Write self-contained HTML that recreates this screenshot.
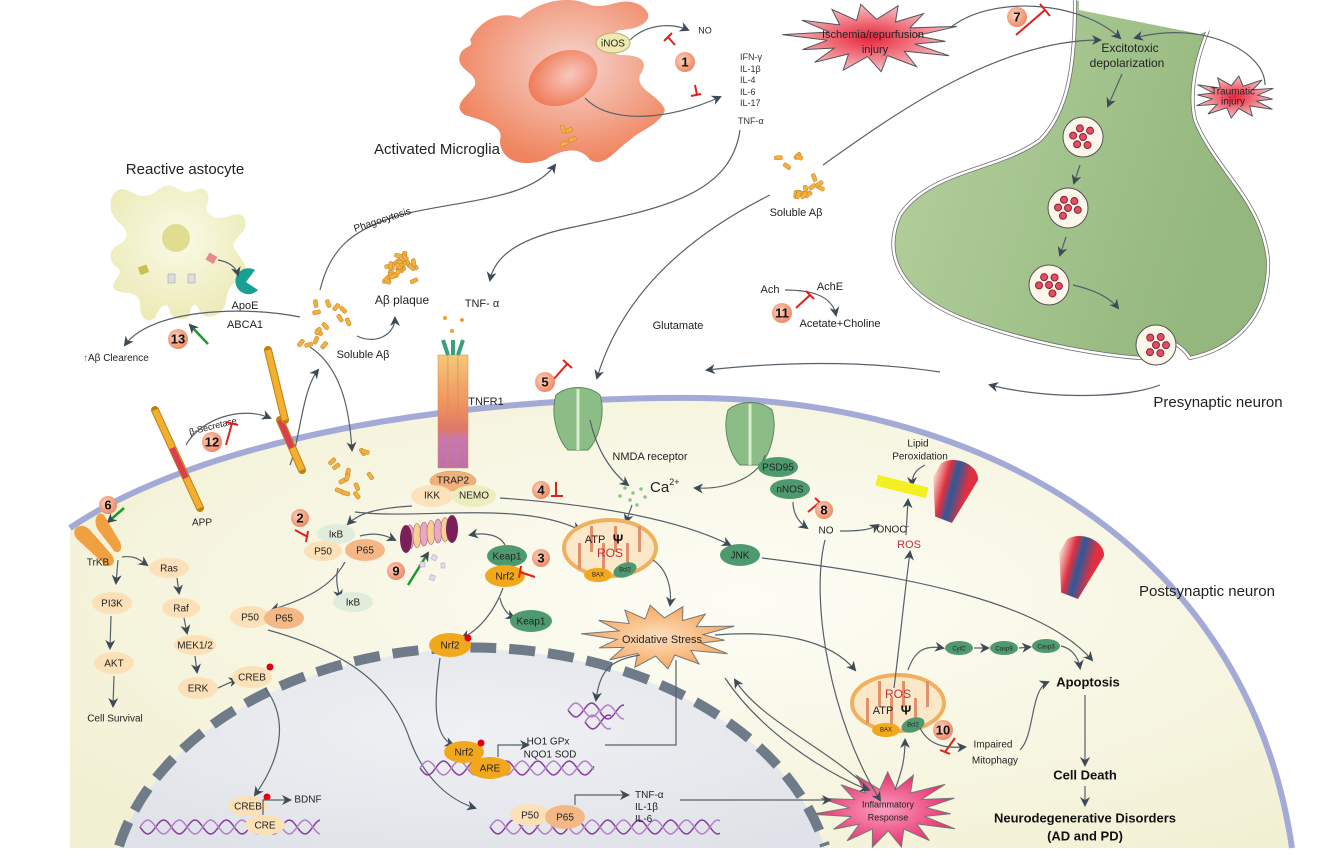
<!DOCTYPE html>
<html><head><meta charset="utf-8"><style>
html,body{margin:0;padding:0;background:#fff;width:1321px;height:857px;overflow:hidden;}
svg{display:block;font-family:"Liberation Sans",sans-serif;}
.t{font-size:10px;fill:#222;text-anchor:middle;dominant-baseline:middle;}
.l{font-size:11px;fill:#222;text-anchor:middle;dominant-baseline:middle;}
.big{font-size:15px;fill:#222;text-anchor:middle;dominant-baseline:middle;}
.b{font-size:13px;font-weight:bold;fill:#111;text-anchor:middle;dominant-baseline:middle;}
.ar{fill:none;stroke:#56606b;stroke-width:1.2;marker-end:url(#ah);}
.inh{stroke:#e0201c;stroke-width:2;fill:none;}
</style></head><body>
<svg id="s" width="1321" height="857" viewBox="0 0 1321 857" xmlns="http://www.w3.org/2000/svg">
<defs>
<marker id="ah" markerWidth="10" markerHeight="10" refX="8" refY="5" orient="auto" markerUnits="userSpaceOnUse"><path d="M0,0 L10,5 L0,10 L3,5 Z" fill="#3e4a56"/></marker>
<radialGradient id="cellg" cx="0.55" cy="0.45" r="0.7"><stop offset="0" stop-color="#fdfdf6"/><stop offset="1" stop-color="#f2f0d2"/></radialGradient>
<radialGradient id="nucg" cx="0.5" cy="0.4" r="0.7"><stop offset="0" stop-color="#f0f1f4"/><stop offset="1" stop-color="#dfe2e8"/></radialGradient>
<radialGradient id="mg" cx="0.55" cy="0.4" r="0.6"><stop offset="0" stop-color="#f6d6d0"/><stop offset="1" stop-color="#f0845e"/></radialGradient>
<radialGradient id="mgn" cx="0.6" cy="0.5" r="0.6"><stop offset="0" stop-color="#f8c8c0"/><stop offset="1" stop-color="#ef7a55"/></radialGradient>
<radialGradient id="ag" cx="0.5" cy="0.4" r="0.6"><stop offset="0" stop-color="#fafae8"/><stop offset="1" stop-color="#ecebb8"/></radialGradient>
<linearGradient id="pg" x1="0" y1="0" x2="1" y2="0.3"><stop offset="0" stop-color="#b6d1a0"/><stop offset="1" stop-color="#93b77c"/></linearGradient>
<radialGradient id="redst" cx="0.5" cy="0.5" r="0.5"><stop offset="0" stop-color="#e8243a"/><stop offset="1" stop-color="#f8c0c4"/></radialGradient>
<radialGradient id="orst" cx="0.5" cy="0.5" r="0.5"><stop offset="0" stop-color="#fde0c0"/><stop offset="1" stop-color="#f6a860"/></radialGradient>
<radialGradient id="pkst" cx="0.5" cy="0.5" r="0.5"><stop offset="0" stop-color="#f8a0c0"/><stop offset="1" stop-color="#e8306c"/></radialGradient>
<radialGradient id="num" cx="0.4" cy="0.4" r="0.6"><stop offset="0" stop-color="#fcd4c0"/><stop offset="1" stop-color="#f08a68"/></radialGradient>
<radialGradient id="glu" cx="0.5" cy="0.5" r="0.5"><stop offset="0" stop-color="#f6d070"/><stop offset="1" stop-color="#e46a30"/></radialGradient>
<linearGradient id="tn" x1="0" y1="0" x2="0" y2="1"><stop offset="0" stop-color="#f6c878"/><stop offset="0.45" stop-color="#f09060"/><stop offset="0.65" stop-color="#e07868"/><stop offset="0.75" stop-color="#c878b0"/><stop offset="1" stop-color="#c070a8"/></linearGradient>
<linearGradient id="ch" x1="0" y1="0" x2="1" y2="0"><stop offset="0" stop-color="#f8e0d0"/><stop offset="0.3" stop-color="#e03040"/><stop offset="0.5" stop-color="#2a5a9a"/><stop offset="0.8" stop-color="#e03040"/></linearGradient>
</defs>

<path d="M70,528 C200,440 450,396 700,398 C1000,402 1250,560 1292,848 L70,848 Z" fill="url(#cellg)"/>
<path d="M70,528 C200,440 450,396 700,398 C1000,402 1250,560 1292,848" fill="none" stroke="#a3aad6" stroke-width="6"/>
<path d="M119,848 A362,255 0 0 1 825,848 Z" fill="url(#nucg)"/>
<path d="M119,846 A362,255 0 0 1 825,846" fill="none" stroke="#6f7b89" stroke-width="10" stroke-dasharray="26 13"/>

<path d="M1075,0 C1075,60 1070,110 1040,140 C1000,170 930,170 900,215 C880,260 905,300 980,325 C1040,345 1100,355 1140,358 C1150,335 1175,335 1190,358 C1230,350 1270,320 1268,260 C1262,200 1215,170 1195,120 C1188,90 1198,55 1208,30" fill="url(#pg)" stroke="#6a6a6a" stroke-width="4"/>
<path d="M1075,0 C1075,60 1070,110 1040,140 C1000,170 930,170 900,215 C880,260 905,300 980,325 C1040,345 1100,355 1140,358 C1150,335 1175,335 1190,358 C1230,350 1270,320 1268,260 C1262,200 1215,170 1195,120 C1188,90 1198,55 1208,30" fill="none" stroke="#fff" stroke-width="2.5"/>
<path d="M1079,0 L1079,10 L1200,34 L1210,30" fill="#fff" stroke="none"/>
<g id="ves"></g>
<text class="l" x="1130" y="49" style="font-size:12px">Excitotoxic</text>
<text class="l" x="1127" y="64" style="font-size:12px">depolarization</text>
<path class="ar" d="M1122,74 L1108,106"/>
<path class="ar" d="M1080,165 L1074,183"/>
<path class="ar" d="M1066,237 L1060,255"/>
<path class="ar" d="M1073,285 C1095,290 1110,298 1118,308"/>

<path d="M470,40 C480,20 500,10 520,18 C540,0 570,-5 590,5 C610,10 620,-5 640,5 C660,18 640,30 620,30 C605,35 600,50 620,55 C640,55 650,60 640,75 C635,90 660,95 665,110 C660,125 640,130 630,140 C615,150 605,168 590,160 C580,145 560,150 545,160 C520,168 500,160 500,140 C505,125 480,120 465,115 C450,105 470,95 475,85 C478,72 455,70 460,55 C463,45 475,48 470,40 Z" fill="url(#mg)"/>
<ellipse cx="563" cy="78" rx="36" ry="26" transform="rotate(-25 563 78)" fill="url(#mgn)"/>
<ellipse cx="613" cy="43" rx="17" ry="10" fill="#eeeab0" stroke="#b8b070"/>
<text class="t" x="613" y="44">iNOS</text>
<path class="ar" d="M630,40 C645,25 670,22 688,30"/>
<text class="t" x="705" y="31" style="font-size:9px">NO</text>
<path class="ar" d="M585,98 C610,125 670,120 720,97"/>
<g font-size="9" fill="#333" font-family="Liberation Sans"><text x="740" y="60">IFN-γ</text><text x="740" y="72">IL-1β</text><text x="740" y="83">IL-4</text><text x="740" y="95">IL-6</text><text x="740" y="106">IL-17</text><text x="738" y="124">TNF-α</text></g>
<text class="big" x="437" y="150">Activated Microglia</text>
<path d="M668,37 L675,45 M664,41 L672,33" class="inh"/>
<path d="M695,85 L697,95 M691,96 L701,94" class="inh"/>

<path d="M118,190 C130,186 135,200 150,195 C160,190 165,180 180,190 C190,196 200,185 205,190 C215,200 200,205 210,215 C222,225 240,205 245,220 C250,232 228,240 235,250 C245,262 252,275 240,280 C228,285 228,292 225,305 C220,318 205,320 200,312 C196,300 190,305 190,315 C185,322 172,320 170,312 C168,300 160,305 155,318 C145,325 140,315 140,305 C140,290 125,295 115,290 C108,282 125,275 118,268 C108,262 108,250 118,245 C130,240 128,228 118,222 C108,212 108,196 118,190 Z" fill="url(#ag)"/>
<circle cx="176" cy="238" r="14" fill="#e0dd90"/>
<rect x="139" y="266" width="9" height="8" fill="#c8c050" transform="rotate(-20 143 270)"/>
<rect x="168" y="274" width="7" height="9" fill="#ddd" stroke="#999" stroke-width=".5"/><rect x="188" y="274" width="7" height="9" fill="#ddd" stroke="#999" stroke-width=".5"/>
<rect x="207" y="254" width="9" height="8" fill="#e88a8a" transform="rotate(30 211 258)"/>
<path d="M255,270 A13,13 0 1 0 258,290 L246,282 Z" fill="#1aa090"/>
<path class="ar" d="M218,260 C230,262 236,268 238,275"/>
<text class="big" x="185" y="170">Reactive astocyte</text>
<text class="l" x="245" y="306">ApoE</text>
<text class="l" x="245" y="325">ABCA1</text>
<path class="ar" d="M300,317 C240,305 150,310 125,345"/>
<path d="M208,344 L190,325" stroke="#1a9a2a" stroke-width="2.5" marker-end="url(#ah)"/>
<text x="83" y="361" font-size="10" fill="#222"><tspan fill="#1a9a2a">↑</tspan>Aβ Clearence</text>

<g id="rods"></g>
<text class="l" x="363" y="355">Soluble Aβ</text>
<text class="l" x="402" y="301" style="font-size:12px">Aβ plaque</text>
<path class="ar" d="M357,336 C375,345 395,335 395,318"/>
<path class="ar" d="M320,290 C330,250 350,230 400,215 C460,200 530,200 555,165"/>
<text x="355" y="232" font-size="10" fill="#222" transform="rotate(-18 355 232)">Phagocytosis</text>
<path class="ar" d="M740,130 C730,200 650,210 560,230 C520,240 495,255 490,280"/>
<text class="l" x="482" y="304">TNF- α</text>
<path class="ar" d="M310,347 C345,370 350,420 352,450"/>
<path class="ar" d="M290,465 C300,440 302,390 318,370"/>

<text class="l" x="796" y="213">Soluble Aβ</text>
<path class="ar" d="M823,165 C900,110 1000,40 1100,40"/>
<path class="ar" d="M770,195 C680,240 620,300 597,378"/>
<g id="stars"></g>
<text class="l" x="873" y="35">Ischemia/repurfusion</text>
<text class="l" x="875" y="50">injury</text>
<text class="t" x="1233" y="92">Traumatic</text><text class="t" x="1233" y="102">injury</text>
<path class="ar" d="M950,28 C990,-5 1080,0 1120,38"/>
<path class="ar" d="M1265,85 C1265,50 1200,20 1135,38"/>
<path d="M1016,35 L1045,10 M1040,4 L1050,16" class="inh"/>

<text class="l" x="770" y="290">Ach</text><text class="l" x="830" y="287">AchE</text>
<path class="ar" d="M785,290 C810,290 832,295 836,315"/>
<text class="l" x="840" y="324">Acetate+Choline</text>
<path d="M796,308 L810,295 M806,291 L814,299" class="inh"/>

<text class="l" x="678" y="326">Glutamate</text>
<g id="glu"></g>
<path class="ar" d="M1160,385 C1120,400 1040,398 990,385"/>
<path class="ar" d="M940,372 C860,360 780,362 707,370"/>
<text class="big" x="1218" y="403">Presynaptic neuron</text>

<g id="nmda"></g>
<text class="l" x="650" y="457">NMDA receptor</text>
<text x="650" y="492" font-size="15" fill="#222">Ca<tspan font-size="9" dy="-7">2+</tspan></text>
<g fill="#8cc48c" id="ca"></g>
<path class="ar" d="M590,420 C598,455 615,475 628,485"/>
<path class="ar" d="M765,455 C760,475 730,490 695,488"/>
<path class="ar" d="M632,505 L626,522"/>
<path d="M546,388 L568,363 M563,360 L572,368" class="inh"/>
<ellipse cx="778" cy="467" rx="20" ry="10" fill="#4e9a6e"/><text class="t" x="778" y="468">PSD95</text>
<ellipse cx="790" cy="489" rx="20" ry="10" fill="#4e9a6e"/><text class="t" x="790" y="490">nNOS</text>
<path class="ar" d="M793,502 C793,515 800,523 807,528"/>
<text class="t" x="826" y="531">NO</text>
<path d="M808,512 L820,502 M815,498 L824,506" class="inh"/>
<path class="ar" d="M840,531 C860,531 870,530 878,525"/>
<text class="t" x="893" y="530">ONOO<tspan font-size="7" dy="-3">-</tspan></text>
<text class="t" x="918" y="444">Lipid</text><text class="t" x="920" y="457">Peroxidation</text>
<path class="ar" d="M925,465 C915,470 912,476 912,485"/>
<rect x="876" y="481" width="52" height="11" fill="#f2f020" transform="rotate(14 902 486)"/>
<path class="ar" d="M906,535 L908,500"/>
<text class="t" x="909" y="545" style="fill:#c0303a;font-size:11px">ROS</text>
<g id="chan"></g>
<text class="big" x="1207" y="592">Postsynaptic neuron</text>

<g id="tnfr"></g>
<text class="l" x="486" y="402">TNFR1</text>
<ellipse cx="453" cy="481" rx="23" ry="10" fill="#f0b07a" stroke="#d89060" stroke-width=".5"/><text class="t" x="453" y="481">TRAP2</text>
<ellipse cx="432" cy="496" rx="21" ry="11" fill="#fbe2bc"/><text class="t" x="432" y="496">IKK</text>
<ellipse cx="474" cy="496" rx="22" ry="11" fill="#eeedc0"/><text class="t" x="474" y="496">NEMO</text>
<path class="ar" d="M412,506 C380,508 360,512 348,524"/>
<path class="ar" d="M355,512 C420,520 520,500 580,530"/>
<path class="ar" d="M500,498 C600,505 680,520 730,545"/>
<circle cx="541" cy="490" r="9" fill="url(#num)"/><text class="b" x="541" y="491">4</text>
<path d="M556,482 L556,496 M551,496 L563,496" class="inh"/>

<ellipse cx="336" cy="534" rx="19" ry="10" fill="#e1ecdc"/><text class="t" x="336" y="535">IκB</text>
<ellipse cx="323" cy="551" rx="19" ry="10" fill="#fbe0b8"/><text class="t" x="323" y="552">P50</text>
<ellipse cx="365" cy="550" rx="20" ry="11" fill="#f4b887"/><text class="t" x="365" y="551">P65</text>
<circle cx="300" cy="518" r="9" fill="url(#num)"/><text class="b" x="300" y="519">2</text>
<path d="M295,530 L308,537 M308,531 L306,542" class="inh"/>
<path class="ar" d="M360,536 C375,532 385,535 395,540"/>
<path class="ar" d="M345,562 C330,590 300,600 272,610"/>
<path class="ar" d="M338,568 C335,580 338,590 340,598"/>
<ellipse cx="353" cy="602" rx="20" ry="10" fill="#e1ecdc"/><text class="t" x="353" y="603">IκB</text>
<ellipse cx="250" cy="617" rx="20" ry="11" fill="#fbe0b8"/><text class="t" x="250" y="618">P50</text>
<ellipse cx="284" cy="618" rx="20" ry="11" fill="#f4b887"/><text class="t" x="284" y="619">P65</text>
<path class="ar" d="M268,630 C340,650 390,680 410,740 C425,780 450,800 475,808"/>
<g id="prot"></g>
<circle cx="396" cy="571" r="9" fill="url(#num)"/><text class="b" x="396" y="572">9</text>
<path d="M408,585 L428,553" stroke="#1a9a2a" stroke-width="2.5" marker-end="url(#ah)"/>
<g fill="#e4d8ec" stroke="#b8a8c8" stroke-width=".6"><rect x="432" y="555" width="5" height="5" transform="rotate(30 434 557)"/><rect x="420" y="562" width="5" height="5"/><rect x="430" y="575" width="5" height="5" transform="rotate(20 432 577)"/><rect x="441" y="563" width="4" height="5"/></g>
<ellipse cx="507" cy="556" rx="20" ry="11" fill="#4e9a6e"/><text class="t" x="507" y="557">Keap1</text>
<ellipse cx="505" cy="576" rx="20" ry="11" fill="#f2a81c"/><text class="t" x="505" y="577">Nrf2</text>
<circle cx="541" cy="558" r="9" fill="url(#num)"/><text class="b" x="541" y="559">3</text>
<path d="M520,572 L535,577 M521,566 L519,578" class="inh"/>
<path class="ar" d="M505,545 C500,535 485,532 470,535"/>
<path class="ar" d="M503,588 C495,610 480,630 462,638"/>
<path class="ar" d="M500,598 C502,608 508,615 514,618"/>
<ellipse cx="531" cy="621" rx="21" ry="11" fill="#4e9a6e"/><text class="t" x="531" y="622">Keap1</text>
<ellipse cx="450" cy="645" rx="21" ry="12" fill="#f2a81c"/><text class="t" x="450" y="646">Nrf2</text>
<circle cx="468" cy="638" r="3.5" fill="#e00010"/>
<path class="ar" d="M440,658 C436,690 430,735 453,745"/>

<g id="mito1"></g>
<path class="ar" d="M653,560 C668,570 672,590 670,605"/>

<text class="l" x="662" y="640" style="font-size:11px">Oxidative Stress</text>
<path class="ar" d="M640,655 C610,660 600,670 596,700"/>
<path d="M676,660 L676,745 L605,745" fill="none" stroke="#56606b" stroke-width="1.2"/>
<path class="ar" d="M715,635 C780,630 830,640 855,670"/>
<ellipse cx="740" cy="555" rx="20" ry="11" fill="#4e9a6e"/><text class="t" x="740" y="556">JNK</text>
<path class="ar" d="M762,558 C900,575 1040,600 1092,660"/>

<g id="mito2"></g>
<path class="ar" d="M894,688 C900,640 905,590 910,552"/>
<ellipse cx="959" cy="648" rx="14" ry="7" fill="#4e9a6e"/><text class="t" x="959" y="649" style="font-size:6px">CytC</text>
<ellipse cx="1004" cy="648" rx="14" ry="7" fill="#4e9a6e"/><text class="t" x="1004" y="649" style="font-size:6px">Casp9</text>
<ellipse cx="1046" cy="646" rx="14" ry="7" fill="#4e9a6e"/><text class="t" x="1046" y="647" style="font-size:6px">Casp3</text>
<path class="ar" d="M908,670 C915,650 925,645 943,648"/>
<path class="ar" d="M974,648 L988,648"/><path class="ar" d="M1019,648 L1030,647"/>
<path class="ar" d="M1061,646 C1070,648 1078,655 1080,668"/>
<text class="b" x="1088" y="683">Apoptosis</text>
<path class="ar" d="M1085,695 L1085,765"/>
<text class="b" x="1085" y="776">Cell Death</text>
<path class="ar" d="M1085,786 L1085,805"/>
<text class="b" x="1085" y="819">Neurodegenerative Disorders</text>
<text class="b" x="1085" y="837">(AD and PD)</text>
<circle cx="943" cy="730" r="10" fill="url(#num)"/><text class="b" x="943" y="731">10</text>
<path d="M955,738 L945,752 M940,750 L950,754" class="inh"/>
<path class="ar" d="M920,728 C930,748 950,748 965,747"/>
<text class="t" x="993" y="745">Impaired</text><text class="t" x="995" y="761">Mitophagy</text>
<path class="ar" d="M1020,750 C1035,735 1030,690 1048,682"/>
<path class="ar" d="M825,540 C810,600 830,720 880,800"/>
<path class="ar" d="M870,790 C830,750 760,720 735,680"/>
<path class="ar" d="M725,678 C760,730 820,770 868,790"/>
<path class="ar" d="M895,790 C902,770 905,760 905,740"/>
<text class="t" x="888" y="805" style="font-size:9px">Inflammatory</text>
<text class="t" x="888" y="818" style="font-size:9px">Response</text>

<circle cx="108" cy="505" r="9" fill="url(#num)"/><text class="b" x="108" y="506">6</text>
<path d="M124,508 L108,522" stroke="#1a9a2a" stroke-width="2.5" marker-end="url(#ah)"/>
<path d="M78,540 C68,530 80,520 90,530 L112,555 C118,565 108,570 102,562 Z" fill="#f0a040"/>
<path d="M98,530 C92,520 98,510 104,515 L120,542 C124,552 116,556 112,548 Z" fill="#f0a040"/>
<text class="t" x="98" y="563">TrKB</text>
<path class="ar" d="M118,560 L116,583"/>
<path class="ar" d="M122,557 C135,555 140,560 147,565"/>
<ellipse cx="169" cy="568" rx="20" ry="10" fill="#fbe0b8"/><text class="t" x="169" y="569">Ras</text>
<path class="ar" d="M177,578 L179,593"/>
<ellipse cx="181" cy="608" rx="19" ry="10" fill="#fbe0b8"/><text class="t" x="181" y="609">Raf</text>
<path class="ar" d="M184,618 L187,633"/>
<ellipse cx="195" cy="645" rx="21" ry="10" fill="#fbe0b8"/><text class="t" x="195" y="646">MEK1/2</text>
<path class="ar" d="M195,656 L197,672"/>
<ellipse cx="198" cy="688" rx="20" ry="11" fill="#fbe0b8"/><text class="t" x="198" y="689">ERK</text>
<path class="ar" d="M218,688 C225,685 230,682 237,680"/>
<ellipse cx="252" cy="677" rx="20" ry="11" fill="#fbe0b8"/><text class="t" x="252" y="678">CREB</text>
<circle cx="270" cy="667" r="3.5" fill="#e00010"/>
<path class="ar" d="M265,688 C290,720 280,760 255,795"/>
<ellipse cx="112" cy="603" rx="20" ry="11" fill="#fbe0b8"/><text class="t" x="112" y="604">PI3K</text>
<path class="ar" d="M111,616 L110,648"/>
<ellipse cx="114" cy="663" rx="20" ry="11" fill="#fbe0b8"/><text class="t" x="114" y="664">AKT</text>
<path class="ar" d="M114,676 L113,706"/>
<text class="t" x="115" y="719">Cell Survival</text>
<g id="app"></g>
<text class="t" x="202" y="523">APP</text>
<path class="ar" d="M186,445 C200,420 240,405 270,418"/>
<text x="190" y="435" font-size="9" fill="#222" transform="rotate(-14 190 435)">β-Secretase</text>
<circle cx="212" cy="442" r="10" fill="url(#num)"/><text class="b" x="212" y="443">12</text>
<path d="M226,445 L232,423 M226,422 L238,425" class="inh"/>
<circle cx="178" cy="339" r="10" fill="url(#num)"/><text class="b" x="178" y="340">13</text>
<circle cx="685" cy="62" r="10" fill="url(#num)"/><text class="b" x="685" y="63">1</text>
<circle cx="1017" cy="17" r="10" fill="url(#num)"/><text class="b" x="1017" y="18">7</text>
<circle cx="782" cy="313" r="10" fill="url(#num)"/><text class="b" x="782" y="314">11</text>
<circle cx="545" cy="382" r="10" fill="url(#num)"/><text class="b" x="545" y="383">5</text>
<circle cx="824" cy="510" r="9" fill="url(#num)"/><text class="b" x="824" y="511">8</text>

<g id="dna"></g>
<ellipse cx="464" cy="752" rx="20" ry="11" fill="#f2a81c"/><text class="t" x="464" y="753">Nrf2</text>
<circle cx="481" cy="743" r="3.5" fill="#e00010"/>
<ellipse cx="490" cy="768" rx="21" ry="11" fill="#f2a81c"/><text class="t" x="490" y="769">ARE</text>
<path class="ar" d="M498,757 L498,745 L528,745"/>
<text class="t" x="548" y="742">HO1 GPx</text><text class="t" x="550" y="755">NQO1 SOD</text>
<ellipse cx="248" cy="806" rx="20" ry="10" fill="#fbe0b8"/><text class="t" x="248" y="807">CREB</text>
<circle cx="267" cy="797" r="3.5" fill="#e00010"/>
<ellipse cx="265" cy="825" rx="20" ry="10" fill="#fbe0b8"/><text class="t" x="265" y="826">CRE</text>
<path class="ar" d="M263,815 L263,800 L290,800"/><text class="t" x="308" y="800">BDNF</text>
<ellipse cx="530" cy="815" rx="20" ry="11" fill="#fbe0b8"/><text class="t" x="530" y="816">P50</text>
<ellipse cx="565" cy="817" rx="20" ry="12" fill="#f4b887"/><text class="t" x="565" y="818">P65</text>
<path class="ar" d="M575,805 L575,795 L628,795"/>
<text x="635" y="798" font-size="10" fill="#222">TNF-α</text>
<text x="635" y="810" font-size="10" fill="#222">IL-1β</text>
<text x="635" y="822" font-size="10" fill="#222">IL-6</text>
<path class="ar" d="M680,800 L830,800"/>
</svg>
<script>
var NS="http://www.w3.org/2000/svg",s=document.getElementById('s');
function el(p,t,a){var e=document.createElementNS(NS,t);for(var k in a)e.setAttribute(k,a[k]);document.getElementById(p).appendChild(e);return e;}
function star(cx,cy,rx,ry,n,ir,fill,stroke){var p=[];for(var i=0;i<2*n;i++){var a=Math.PI*i/n+0.1,r=i%2?ir:1;p.push((cx+Math.cos(a)*rx*r*(i%2?1:(0.9+0.2*((i*7)%3)/2))).toFixed(1)+','+(cy+Math.sin(a)*ry*r).toFixed(1));}
el('stars','polygon',{points:p.join(' '),fill:fill,stroke:stroke,'stroke-width':1});}
star(872,38,82,34,14,0.55,'url(#redst)','#555');
star(1235,97,42,21,12,0.55,'url(#redst)','#555');
star(660,637,72,32,14,0.6,'url(#orst)','#777');
star(888,810,70,38,15,0.55,'url(#pkst)','#777');
var st=document.getElementById('stars');st.parentNode.insertBefore(st,s.querySelector('text'));
[[1083,137],[1068,208],[1049,285],[1156,345]].forEach(function(v,j){el('ves','circle',{cx:v[0],cy:v[1],r:20,fill:'#fdf6ea',stroke:'#555','stroke-width':1});
for(var i=0;i<6;i++){var a=i*1.1+j;el('ves','circle',{cx:v[0]+Math.cos(a)*(i?10:0),cy:v[1]+Math.sin(a)*(i?9:0),r:3.5,fill:'#e05060',stroke:'#902030','stroke-width':1});}});
function rods(cx,cy,w,h,n,seed){for(var i=0;i<n;i++){seed=(seed*9301+49297)%233280;var r1=seed/233280;seed=(seed*9301+49297)%233280;var r2=seed/233280;seed=(seed*9301+49297)%233280;var r3=seed/233280;
var x=cx+(r1-0.5)*w,y=cy+(r2-0.5)*h;el('rods','rect',{x:x-4,y:y-2,width:8,height:4,rx:1.5,fill:'#f2b040',stroke:'#c88020','stroke-width':.5,transform:'rotate('+(r3*180)+' '+x+' '+y+')'});}}
rods(325,325,50,45,14,3);rods(400,268,30,30,26,7);rods(350,475,45,50,12,11);rods(800,175,45,50,14,5);rods(568,138,20,20,4,13);
[[660,350],[675,343],[690,352],[655,368],[672,372],[690,375],[705,370],[665,390],[685,392]].forEach(function(p){el('glu','circle',{cx:p[0],cy:p[1],r:6,fill:'url(#glu)'});});
[[950,365],[965,360],[978,370],[945,382],[962,384],[978,388],[955,400],[970,405],[990,378]].forEach(function(p){el('glu','circle',{cx:p[0],cy:p[1],r:6,fill:'url(#glu)'});});
el('glu','circle',{cx:608,cy:404,r:6,fill:'url(#glu)'});el('glu','circle',{cx:774,cy:418,r:6,fill:'url(#glu)'});
[[625,488],[633,493],[641,489],[630,500],[645,497],[620,496],[637,505]].forEach(function(p){el('ca','circle',{cx:p[0],cy:p[1],r:1.8});});
function nmda(x,y){el('nmda','path',{d:'M'+(x-22)+','+y+' C'+(x-28)+','+(y+20)+' '+(x-20)+','+(y+45)+' '+(x-10)+','+(y+55)+' L'+(x+10)+','+(y+55)+' C'+(x+20)+','+(y+45)+' '+(x+28)+','+(y+20)+' '+(x+22)+','+y+' C'+(x+10)+','+(y-10)+' '+(x-10)+','+(y-10)+' '+(x-22)+','+y+' Z',fill:'#8dbd86',stroke:'#5a8a58','stroke-width':1});
el('nmda','path',{d:'M'+x+','+(y-6)+' L'+x+','+(y+55),stroke:'#d8ecd0','stroke-width':3});}
nmda(578,395);nmda(750,410);
function chan(x,y){el('chan','path',{d:'M'+(x-18)+','+(y-25)+' C'+(x-5)+','+(y-38)+' '+(x+20)+','+(y-32)+' '+(x+22)+','+(y-18)+' L'+(x+8)+','+(y+30)+' L'+(x-10)+','+(y+28)+' L'+(x-22)+','+(y-10)+' Z',fill:'url(#ch)',transform:'rotate(15 '+x+' '+y+')'});}
chan(952,492);chan(1078,568);
for(var i=0;i<3;i++){el('tnfr','rect',{x:438+i*10,y:355,width:10,height:113,fill:'url(#tn)',stroke:'#c8904e','stroke-width':.5});}
el('tnfr','path',{d:'M443,340 L448,355 M453,340 L453,355 M463,340 L458,355',stroke:'#3aa07a','stroke-width':4});
el('tnfr','circle',{cx:452,cy:331,r:2,fill:'#f0a030'});el('tnfr','circle',{cx:445,cy:318,r:2,fill:'#f0a030'});el('tnfr','circle',{cx:462,cy:320,r:2,fill:'#f0a030'});
for(var i=0;i<6;i++){el('prot','ellipse',{cx:410+i*7,cy:537-i*1.5,rx:4,ry:12,fill:i%2?'#f6d090':'#e8a8c0',stroke:'#a06080','stroke-width':.6});}
el('prot','ellipse',{cx:406,cy:539,rx:6,ry:14,fill:'#7a2058'});el('prot','ellipse',{cx:452,cy:529,rx:6,ry:14,fill:'#7a2058'});
function mito(g,x,y,top){el(g,'ellipse',{cx:x,cy:y,rx:46,ry:28,fill:'#fbe8c8',stroke:'#f0b060','stroke-width':4});
for(var i=0;i<6;i++)el(g,'rect',{x:x-32+i*12,y:(i%2)?y-22:y-5,width:3,height:26,fill:'#e0906a'});
el(g,'text',{x:x,y:top?y-8:y+6,'class':'t',style:'font-size:12px;fill:#c0303a'}).textContent='ROS';
el(g,'text',{x:x-15,y:top?y+8:y-8,'class':'t',style:'font-size:11px'}).textContent='ATP';
el(g,'text',{x:x+8,y:top?y+8:y-8,'class':'b'}).textContent='Ψ';
el(g,'ellipse',{cx:x-12,cy:y+27,rx:14,ry:7,fill:'#f2a81c'});el(g,'text',{x:x-12,y:y+27,'class':'t',style:'font-size:6px'}).textContent='BAX';
el(g,'ellipse',{cx:x+15,cy:y+22,rx:12,ry:7,fill:'#4e9a6e',transform:'rotate(-20 '+(x+15)+' '+(y+22)+')'});el(g,'text',{x:x+15,y:y+22,'class':'t',style:'font-size:6px'}).textContent='Bcl2';}
mito('mito1',610,548,false);mito('mito2',898,703,true);
function rod(x1,y1,x2,y2,red){el('app','line',{x1:x1,y1:y1,x2:x2,y2:y2,stroke:'#c08010','stroke-width':8,'stroke-linecap':'round'});el('app','line',{x1:x1,y1:y1,x2:x2,y2:y2,stroke:'#f2b030','stroke-width':6});
if(red)el('app','line',{x1:red[0],y1:red[1],x2:red[2],y2:red[3],stroke:'#d84050','stroke-width':6});}
rod(155,410,200,508,[172,448,186,478]);rod(280,420,302,470,[280,420,292,448]);rod(268,350,285,420,null);
function dna(x1,x2,y){var d1='',d2='';for(var x=x1;x<=x2;x+=2){var a=Math.sin((x-x1)/5)*7;d1+=(x==x1?'M':'L')+x+','+(y+a);d2+=(x==x1?'M':'L')+x+','+(y-a);}
el('dna','path',{d:d1,fill:'none',stroke:'#8a3ca0','stroke-width':1.5});el('dna','path',{d:d2,fill:'none',stroke:'#b080c8','stroke-width':1.5});}
dna(420,595,768);dna(140,320,827);dna(490,720,827);dna(568,600,710);dna(600,625,712);dna(585,612,722);
</script>
</body></html>
